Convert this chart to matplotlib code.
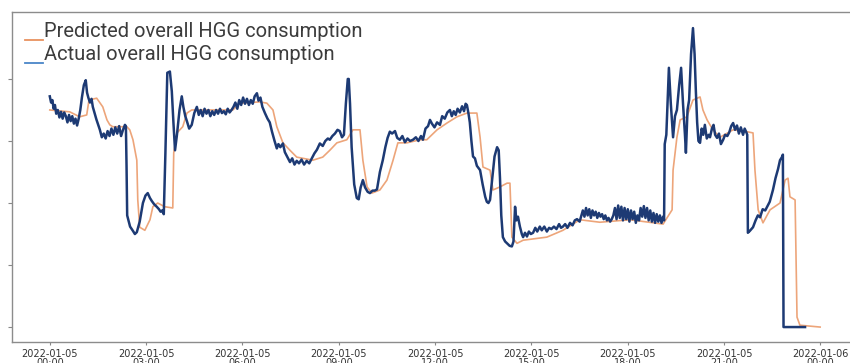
#%% Import Libraries

import numpy as np
import pandas as pd
import matplotlib
matplotlib.use("Agg")
import matplotlib.pyplot as plt
import matplotlib.dates as mdates

#%% Data: hours after 2022-01-05 00:00 and consumption (scaled units)

# actual overall HGG consumption
actual_h = [0.00, 0.04, 0.08, 0.12, 0.16, 0.20, 0.25, 0.30, 0.35, 0.40, 0.45, 0.50, 0.55, 0.60,
            0.65, 0.70, 0.75, 0.80, 0.85, 0.90, 0.95, 1.00, 1.06, 1.12, 1.16, 1.20, 1.25, 1.30,
            1.34, 1.45, 1.56, 1.62, 1.68, 1.74, 1.80, 1.86, 1.92, 1.98, 2.04, 2.10, 2.16, 2.22,
            2.28, 2.34, 2.37, 2.39, 2.41, 2.50, 2.59, 2.65, 2.71, 2.80, 2.90, 2.98, 3.05, 3.12,
            3.18, 3.25, 3.33, 3.40, 3.45, 3.50, 3.55, 3.60, 3.66, 3.74, 3.80, 3.85, 3.90, 3.96,
            4.04, 4.11, 4.16, 4.22, 4.27, 4.34, 4.42, 4.50, 4.58, 4.64, 4.70, 4.76, 4.82, 4.88,
            4.94, 5.00, 5.06, 5.12, 5.18, 5.24, 5.30, 5.36, 5.42, 5.48, 5.54, 5.60, 5.66, 5.72,
            5.78, 5.84, 5.90, 5.96, 6.02, 6.08, 6.14, 6.20, 6.26, 6.32, 6.38, 6.45, 6.50, 6.56,
            6.62, 6.70, 6.78, 6.85, 6.92, 7.00, 7.07, 7.12, 7.18, 7.26, 7.32, 7.40, 7.48, 7.55,
            7.62, 7.69, 7.76, 7.84, 7.92, 8.00, 8.08, 8.16, 8.24, 8.32, 8.41, 8.50, 8.58, 8.66,
            8.72, 8.80, 8.88, 8.96, 9.03, 9.10, 9.16, 9.22, 9.28, 9.31, 9.35, 9.40, 9.48, 9.56,
            9.62, 9.68, 9.75, 9.82, 9.90, 9.97, 10.05, 10.12, 10.19, 10.28, 10.37, 10.45, 10.52,
            10.59, 10.66, 10.75, 10.82, 10.90, 10.98, 11.06, 11.14, 11.22, 11.31, 11.40, 11.48,
            11.56, 11.62, 11.70, 11.78, 11.84, 11.90, 11.98, 12.06, 12.15, 12.22, 12.30, 12.38,
            12.46, 12.52, 12.58, 12.64, 12.70, 12.77, 12.84, 12.90, 12.95, 12.99, 13.04, 13.08,
            13.13, 13.18, 13.24, 13.30, 13.40, 13.48, 13.56, 13.61, 13.66, 13.71, 13.78, 13.85,
            13.93, 13.98, 14.02, 14.06, 14.11, 14.18, 14.24, 14.32, 14.39, 14.44, 14.49, 14.53,
            14.58, 14.64, 14.70, 14.74, 14.80, 14.86, 14.92, 14.98, 15.05, 15.12, 15.18, 15.26,
            15.32, 15.40, 15.48, 15.55, 15.62, 15.70, 15.78, 15.86, 15.92, 15.98, 16.05, 16.12,
            16.20, 16.28, 16.35, 16.42, 16.50, 16.60, 16.65, 16.70, 16.75, 16.80, 16.85, 16.90,
            16.95, 17.00, 17.05, 17.10, 17.15, 17.20, 17.25, 17.30, 17.35, 17.40, 17.45, 17.50,
            17.55, 17.60, 17.65, 17.70, 17.75, 17.80, 17.85, 17.90, 17.95, 18.00, 18.05, 18.10,
            18.15, 18.20, 18.25, 18.30, 18.35, 18.40, 18.45, 18.50, 18.55, 18.60, 18.65, 18.70,
            18.75, 18.80, 18.85, 18.90, 18.95, 19.00, 19.05, 19.10, 19.13, 19.15, 19.20, 19.28,
            19.34, 19.41, 19.47, 19.53, 19.60, 19.66, 19.72, 19.78, 19.81, 19.86, 19.91, 19.97,
            20.03, 20.08, 20.12, 20.16, 20.20, 20.25, 20.30, 20.35, 20.40, 20.46, 20.52, 20.56,
            20.62, 20.67, 20.72, 20.78, 20.84, 20.90, 20.97, 21.03, 21.10, 21.16, 21.22, 21.28,
            21.34, 21.40, 21.46, 21.52, 21.59, 21.64, 21.70, 21.72, 21.74, 21.80, 21.90, 21.98,
            22.05, 22.12, 22.20, 22.28, 22.34, 22.42, 22.52, 22.60, 22.68, 22.74, 22.80, 22.83,
            22.85, 23.52]
actual_v = [3.72, 3.62, 3.66, 3.52, 3.58, 3.44, 3.50, 3.38, 3.47, 3.36, 3.46, 3.40, 3.30, 3.42,
            3.32, 3.40, 3.28, 3.36, 3.25, 3.36, 3.50, 3.70, 3.90, 3.98, 3.78, 3.70, 3.62, 3.68,
            3.55, 3.35, 3.18, 3.06, 3.12, 3.04, 3.16, 3.08, 3.20, 3.10, 3.22, 3.12, 3.24, 3.08,
            3.18, 3.26, 3.24, 2.60, 1.80, 1.62, 1.55, 1.50, 1.53, 1.70, 2.00, 2.12, 2.16, 2.08,
            2.03, 1.98, 1.94, 1.90, 1.86, 1.88, 1.82, 2.80, 4.10, 4.12, 3.80, 3.30, 2.85, 3.10,
            3.50, 3.72, 3.55, 3.40, 3.32, 3.20, 3.26, 3.45, 3.55, 3.42, 3.50, 3.40, 3.52, 3.44,
            3.50, 3.40, 3.48, 3.42, 3.50, 3.44, 3.52, 3.45, 3.48, 3.43, 3.52, 3.46, 3.50, 3.55,
            3.62, 3.52, 3.66, 3.58, 3.70, 3.60, 3.68, 3.58, 3.66, 3.60, 3.72, 3.77, 3.65, 3.70,
            3.55, 3.45, 3.36, 3.30, 3.15, 3.00, 2.88, 2.95, 2.90, 2.96, 2.82, 2.74, 2.66, 2.72,
            2.62, 2.68, 2.64, 2.70, 2.62, 2.68, 2.64, 2.72, 2.80, 2.86, 2.96, 2.92, 3.00, 3.04,
            3.02, 3.08, 3.12, 3.18, 3.16, 3.06, 3.10, 3.60, 4.00, 4.00, 3.60, 2.90, 2.30, 2.08,
            2.06, 2.25, 2.37, 2.25, 2.18, 2.16, 2.20, 2.20, 2.22, 2.50, 2.69, 2.90, 3.05,
            3.15, 3.12, 3.16, 3.05, 3.02, 3.08, 2.98, 3.04, 3.00, 3.02, 3.06, 3.00,
            3.08, 3.02, 3.20, 3.24, 3.34, 3.28, 3.22, 3.30, 3.26, 3.40, 3.36, 3.46,
            3.50, 3.40, 3.48, 3.42, 3.52, 3.46, 3.56, 3.48, 3.60, 3.58, 3.44, 3.30,
            3.00, 2.75, 2.72, 2.60, 2.53, 2.30, 2.10, 2.02, 2.00, 2.05, 2.40, 2.75,
            2.90, 2.85, 2.40, 1.80, 1.45, 1.38, 1.35, 1.31, 1.30, 1.38, 1.94, 1.72,
            1.78, 1.62, 1.50, 1.45, 1.52, 1.46, 1.54, 1.50, 1.52, 1.60, 1.54, 1.62,
            1.56, 1.62, 1.54, 1.60, 1.58, 1.62, 1.58, 1.66, 1.60, 1.62, 1.66, 1.60,
            1.68, 1.64, 1.72, 1.74, 1.70, 1.88, 1.78, 1.92, 1.80, 1.90, 1.76, 1.88,
            1.80, 1.86, 1.76, 1.84, 1.78, 1.82, 1.74, 1.80, 1.72, 1.76, 1.70, 1.74,
            1.80, 1.92, 1.74, 1.96, 1.76, 1.94, 1.72, 1.92, 1.74, 1.90, 1.70, 1.88,
            1.74, 1.86, 1.68, 1.80, 1.72, 1.92, 1.78, 1.95, 1.76, 1.92, 1.72, 1.88,
            1.70, 1.84, 1.68, 1.82, 1.70, 1.80, 1.68, 1.78, 1.72, 2.95, 3.10, 4.18,
            3.60, 3.06, 3.40, 3.50, 3.90, 4.18, 3.60, 3.10, 2.81, 3.50, 3.66, 4.40,
            4.82, 4.40, 3.80, 3.30, 3.00, 2.97, 3.20, 3.10, 3.26, 3.04, 3.10, 3.06,
            3.20, 3.26, 3.10, 3.05, 3.12, 2.95, 3.02, 3.10, 3.08, 3.14, 3.24, 3.29,
            3.18, 3.25, 3.12, 3.22, 3.10, 3.20, 3.13, 3.10, 1.52, 1.55, 1.61, 1.72,
            1.80, 1.77, 1.90, 1.88, 1.94, 2.02, 2.21, 2.40, 2.55, 2.69, 2.74, 2.78,
            0.00, 0.00]

# predicted overall HGG consumption
pred_h = [0.00, 0.62, 0.93, 1.15, 1.22, 1.46, 1.65, 1.78, 1.87, 1.96, 2.40, 2.49, 2.59, 2.71,
          2.74, 2.80, 2.96, 3.12, 3.21, 3.36, 3.58, 3.83, 3.86, 3.96, 4.14, 4.27, 4.42, 5.70,
          5.92, 6.54, 6.76, 6.95, 7.07, 7.26, 7.48, 7.69, 8.19, 8.50, 8.72, 8.94, 9.25, 9.44,
          9.66, 9.75, 9.88, 10.03, 10.28, 10.50, 10.69, 10.84, 11.12, 11.53, 11.74, 12.06,
          12.37, 12.68, 12.99, 13.30, 13.40, 13.49, 13.71, 13.80, 14.02, 14.24, 14.33, 14.39,
          14.55, 14.74, 15.48, 15.98, 16.51, 17.13, 18.07, 19.10, 19.22, 19.38, 19.41, 19.53,
          19.63, 19.84, 20.03, 20.25, 20.34, 20.47, 20.65, 20.87, 21.28, 21.71, 21.90, 21.96,
          22.06, 22.21, 22.43, 22.74, 22.90, 22.99, 23.05, 23.21, 23.27, 23.36, 23.99]
pred_v = [3.50, 3.47, 3.39, 3.42, 3.66, 3.69, 3.55, 3.34, 3.26, 3.23, 3.23, 3.18, 3.02, 2.69,
          2.05, 1.61, 1.56, 1.73, 1.94, 2.00, 1.94, 1.92, 2.81, 3.13, 3.23, 3.45, 3.50, 3.50,
          3.61, 3.63, 3.61, 3.50, 3.23, 2.97, 2.85, 2.74, 2.69, 2.74, 2.85, 2.97, 3.02, 3.18,
          3.18, 2.69, 2.26, 2.16, 2.21, 2.37, 2.69, 2.97, 2.97, 3.02, 3.02, 3.18,
          3.29, 3.39, 3.45, 3.45, 3.06, 2.58, 2.53, 2.21, 2.26, 2.32, 2.32, 1.45,
          1.35, 1.40, 1.45, 1.56, 1.73, 1.69, 1.73, 1.66, 1.76, 1.89, 2.53, 3.06,
          3.34, 3.39, 3.66, 3.71, 3.50, 3.34, 3.18, 3.06, 3.18, 3.15, 3.13, 2.53,
          1.89, 1.68, 1.89, 2.00, 2.37, 2.40, 2.10, 2.05, 0.16, 0.03, 0.00]

day0 = pd.Timestamp("2022-01-05")
actual_t = day0 + pd.to_timedelta(actual_h, unit="h")
pred_t = day0 + pd.to_timedelta(pred_h, unit="h")

#%% Plot

plt.rcParams["font.family"] = ["DejaVu Sans"]
fig = plt.figure(figsize=(8.5, 3.63), dpi=100)
ax = fig.add_axes([0.014, 0.058, 0.986, 0.909])

ax.plot(pred_t, pred_v, color="#eda57a", lw=1.2)
ax.plot(actual_t, actual_v, color="#1d3a74", lw=1.8)

ax.set_xlim(day0 - pd.Timedelta(hours=1.18), day0 + pd.Timedelta(hours=24.92))
ax.set_ylim(-0.24, 5.08)
ax.set_yticks([0, 1, 2, 3, 4])
ax.set_yticklabels([])
ax.tick_params(axis="y", length=3, color="#888888")
ax.tick_params(axis="x", length=2, color="#888888", labelsize=7, labelcolor="#333333", pad=3)

ax.xaxis.set_major_locator(mdates.HourLocator(byhour=[0, 3, 6, 9, 12, 15, 18, 21]))
ax.xaxis.set_major_formatter(mdates.DateFormatter("%Y-%m-%d\n%H:%M"))
for lab in ax.get_xticklabels():
    lab.set_linespacing(0.95)

for side in ["left", "bottom", "top"]:
    ax.spines[side].set_color("#8c8c8c")
    ax.spines[side].set_linewidth(1.0)
ax.spines["right"].set_visible(False)

# legend with short underscore-like handles sitting on the text baseline
leg_items = [("Predicted overall HGG consumption", "#e8925f"),
             ("Actual overall HGG consumption", "#4a86c8")]
for i, (txt, col) in enumerate(leg_items):
    yc = 0.942 - i * 0.07
    ax.plot([0.0155, 0.037], [yc - 0.028, yc - 0.028], color=col, lw=1.3,
            transform=ax.transAxes)
    ax.text(0.038, yc, txt, transform=ax.transAxes, fontsize=14.5,
            family="Roboto", color="#3c3c3c", va="center", ha="left")

plt.savefig("out.png", dpi=100)
